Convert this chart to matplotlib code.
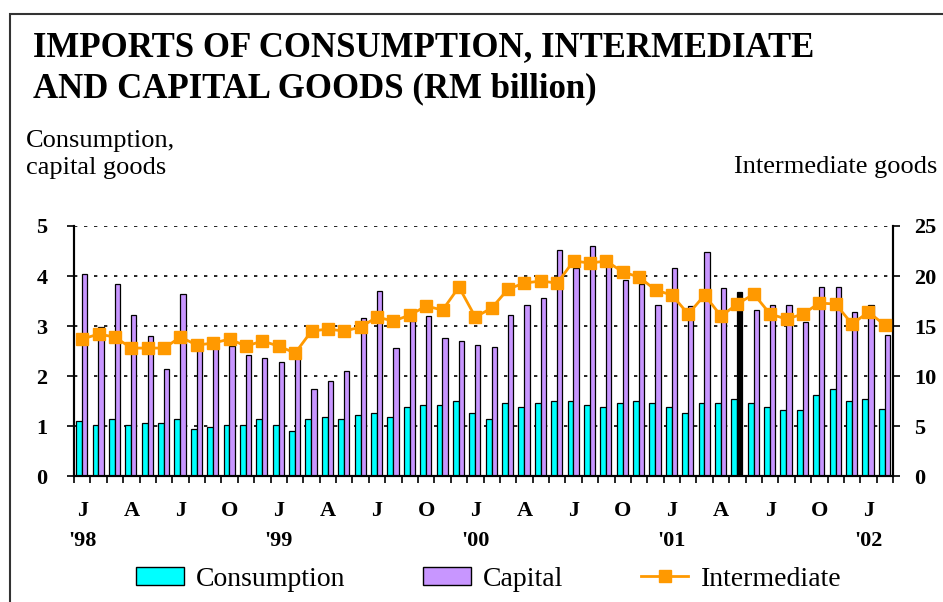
import matplotlib.pyplot as plt
from matplotlib.patches import Rectangle
import numpy as np

plt.rcParams['font.family'] = ['Liberation Serif', 'DejaVu Serif']

# Jan 1998 .. Feb 2002, monthly
month_letters = ['J', 'F', 'M', 'A', 'M', 'J', 'J', 'A', 'S', 'O', 'N', 'D']
n_months = 50
year_labels = ["'98", "'99", "'00", "'01", "'02"]

# RM billion
consumption = [1.10, 1.03, 1.14, 1.03, 1.07, 1.07, 1.14, 0.94, 0.98, 1.03,
               1.03, 1.14, 1.03, 0.91, 1.14, 1.18, 1.14, 1.23, 1.27, 1.19,
               1.38, 1.43, 1.43, 1.51, 1.27, 1.15, 1.47, 1.38, 1.47, 1.51,
               1.51, 1.43, 1.38, 1.47, 1.51, 1.47, 1.38, 1.27, 1.47, 1.47,
               1.55, 1.47, 1.38, 1.33, 1.33, 1.63, 1.75, 1.51, 1.55, 1.35]
capital = [4.05, 2.99, 3.85, 3.23, 2.80, 2.15, 3.65, 2.65, 2.63, 2.61,
           2.43, 2.36, 2.28, 2.57, 1.75, 1.91, 2.11, 3.16, 3.71, 2.56,
           3.11, 3.20, 2.76, 2.71, 2.63, 2.59, 3.23, 3.43, 3.56, 4.53,
           4.17, 4.61, 4.25, 3.93, 3.85, 3.43, 4.16, 3.40, 4.48, 3.76,
           3.68, 3.33, 3.43, 3.43, 3.08, 3.79, 3.79, 3.28, 3.43, 2.83]
intermediate = [13.7, 14.2, 13.9, 12.8, 12.8, 12.8, 13.9, 13.1, 13.3, 13.7,
                13.0, 13.5, 13.0, 12.3, 14.5, 14.7, 14.5, 14.9, 15.9, 15.5,
                16.1, 17.0, 16.6, 18.9, 15.9, 16.8, 18.7, 19.3, 19.5, 19.3,
                21.5, 21.3, 21.5, 20.4, 19.9, 18.6, 18.1, 16.2, 18.1, 16.0,
                17.2, 18.2, 16.2, 15.7, 16.2, 17.3, 17.2, 15.2, 16.4, 15.1]

cyan = '#00FFFF'
purple = '#C896FF'
orange = '#FF9900'

fig = plt.figure(figsize=(9.43, 6.02), dpi=100)
ax = fig.add_axes([0.0785, 0.209, 0.8685, 0.4156])

x = np.arange(n_months)
cap_colors = [purple] * n_months
cap_colors[40] = 'black'  # the odd dark bar in May 2001
ax.bar(x - 0.19, consumption, width=0.36, color=cyan, edgecolor='black', linewidth=0.9, zorder=2)
ax.bar(x + 0.15, capital, width=0.32, color=cap_colors, edgecolor='black', linewidth=0.9, zorder=2)

ax.set_xlim(-0.5, n_months - 0.5)
ax.set_ylim(0, 5)
ax.set_yticks(range(6))
ax.grid(axis='y', linestyle=(0, (2, 4)), color='black', linewidth=1.2, zorder=0)
ax.set_axisbelow(True)

ax.set_xticks(np.arange(-0.5, n_months, 1.0))
ax.set_xticklabels([])
ax.set_xticks(x[::3], minor=True)
ax.set_xticklabels([month_letters[i % 12] for i in x[::3]], minor=True,
                   fontsize=16, fontweight='bold')
ax.tick_params(axis='x', which='major', length=5, width=1.2, direction='out')
ax.tick_params(axis='x', which='minor', length=0, pad=18)
ax.tick_params(axis='y', length=5, width=1.2, direction='out', labelsize=16, pad=14)
for lab in ax.get_yticklabels():
    lab.set_fontweight('bold')

for k, yl in enumerate(year_labels):
    ax.text(12 * k, -0.22, yl, transform=ax.get_xaxis_transform(),
            ha='center', va='top', fontsize=16, fontweight='bold')

for s in ['left', 'right', 'bottom']:
    ax.spines[s].set_linewidth(1.5)
ax.spines['top'].set_visible(False)

ax2 = ax.twinx()
ax2.plot(x, intermediate, color=orange, marker='s', markersize=9, linewidth=2, zorder=3)
ax2.set_ylim(0, 25)
ax2.set_yticks(range(0, 26, 5))
ax2.tick_params(axis='y', length=5, width=1.2, direction='out', labelsize=16, pad=10)
for lab in ax2.get_yticklabels():
    lab.set_fontweight('bold')
for s in ['left', 'right', 'bottom']:
    ax2.spines[s].set_linewidth(1.5)
ax2.spines['top'].set_visible(False)

fig.text(33 / 943, 1 - 56 / 602, 'IMPORTS OF CONSUMPTION, INTERMEDIATE',
         fontsize=25, fontweight='bold', va='baseline')
fig.text(33 / 943, 1 - 97 / 602, 'AND CAPITAL GOODS (RM billion)',
         fontsize=25, fontweight='bold', va='baseline')
fig.text(26 / 943, 1 - 147 / 602, 'Consumption,', fontsize=19, va='baseline')
fig.text(26 / 943, 1 - 174 / 602, 'capital goods', fontsize=19, va='baseline')
fig.text(937 / 943, 1 - 173 / 602, 'Intermediate goods', fontsize=19, va='baseline', ha='right')

h1 = Rectangle((0, 0), 1, 1, facecolor=cyan, edgecolor='black')
h2 = Rectangle((0, 0), 1, 1, facecolor=purple, edgecolor='black')
h3 = plt.Line2D([], [], color=orange, marker='s', markersize=9, linewidth=2)
fig.legend([h1, h2, h3], ['Consumption', 'Capital', 'Intermediate'],
           loc='center', bbox_to_anchor=(489 / 943, 1 - 579 / 602), ncol=3,
           frameon=False, fontsize=20, handlelength=1.7, handleheight=0.6,
           columnspacing=2.8, handletextpad=0.45)

fig.add_artist(Rectangle((10 / 943, -0.1), 1.0, 1.1 - 14 / 602, transform=fig.transFigure,
                         fill=False, edgecolor='#333333', linewidth=1.5))

plt.savefig('out.png', dpi=100)
